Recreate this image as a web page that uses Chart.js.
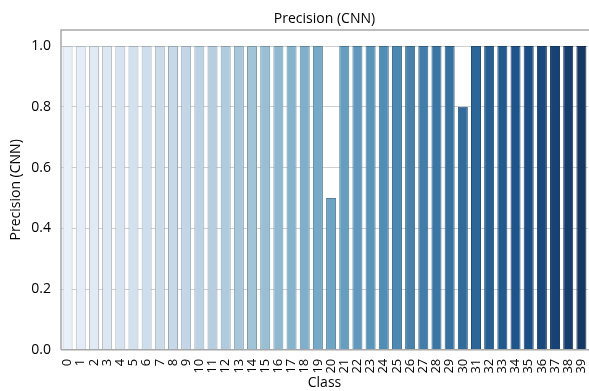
<!DOCTYPE html>
<html><head><meta charset="utf-8">
<script src="https://cdn.jsdelivr.net/npm/chart.js@4/dist/chart.umd.min.js"></script>
<style>html,body{margin:0;padding:0;background:#fff;overflow:hidden}#wrap{width:589px;height:391px;overflow:hidden;position:relative}canvas{position:absolute;left:0;top:0}</style>
</head><body><div id="wrap"><canvas id="c" width="598" height="391"></canvas></div>
<script>
const classes = Array.from({length:40},(_,i)=>String(i));
const precision = [1,1,1,1,1,1,1,1,1,1, 1,1,1,1,1,1,1,1,1,1, 0.5,1,1,1,1,1,1,1,1,1, 0.8,1,1,1,1,1,1,1,1,1];
const yTicks = [0,0.2,0.4,0.6,0.8,1.0];
const titleText = 'Precision (CNN)';
const yTitle = 'Precision (CNN)';
const xTitle = 'Class';

// Blues colormap stops
const stops = ['#f7fbff','#deebf7','#c6dbef','#9ecae1','#6baed6','#4292c6','#2171b5','#08519c','#08306b'].map(h=>[parseInt(h.substr(1,2),16),parseInt(h.substr(3,2),16),parseInt(h.substr(5,2),16)]);
function blues(t){const p=t*(stops.length-1);const i=Math.min(Math.floor(p),stops.length-2);const f=p-i;return stops[i].map((v,k)=>v+(stops[i+1][k]-v)*f);}
function rgb2hls(r,g,b){r/=255;g/=255;b/=255;const mx=Math.max(r,g,b),mn=Math.min(r,g,b);const l=(mx+mn)/2;let h=0,s=0;if(mx!==mn){const d=mx-mn;s=l>0.5?d/(2-mx-mn):d/(mx+mn);if(mx===r)h=((g-b)/d+(g<b?6:0));else if(mx===g)h=(b-r)/d+2;else h=(r-g)/d+4;h/=6;}return [h,l,s];}
function hue2(p,q,t){if(t<0)t+=1;if(t>1)t-=1;if(t<1/6)return p+(q-p)*6*t;if(t<1/2)return q;if(t<2/3)return p+(q-p)*(2/3-t)*6;return p;}
function hls2rgb(h,l,s){if(s===0)return [l*255,l*255,l*255];const q=l<0.5?l*(1+s):l+s-l*s;const p=2*l-q;return [hue2(p,q,h+1/3)*255,hue2(p,q,h)*255,hue2(p,q,h-1/3)*255];}
const fills=[],edges=[];
for(let i=0;i<classes.length;i++){
  const c=blues((i+1)/(classes.length+1));
  const [h,l,s]=rgb2hls(...c);
  const d=hls2rgb(h,l*0.97,s*0.75);
  fills.push(`rgb(${d.map(Math.round).join(',')})`);
  const e=d.map(v=>Math.round(v*0.78));
  edges.push(`rgb(${e.join(',')})`);
}
const FF='"Open Sans"';
const frame={id:'frame',
  afterDatasetsDraw(ch){const a=ch.chartArea,x=ch.ctx;x.save();x.strokeStyle='#a8a8a8';x.lineWidth=1.5;x.beginPath();x.moveTo(a.left,a.bottom);x.lineTo(a.left,a.top);x.lineTo(a.right+2,a.top);x.moveTo(a.left,a.bottom);x.lineTo(a.right+2,a.bottom);x.stroke();x.restore();},
  afterDraw(ch){const a=ch.chartArea,x=ch.ctx;x.save();x.fillStyle='#000';x.font='14px '+FF;x.textAlign='center';x.textBaseline='alphabetic';x.fillText(titleText,(a.left+a.right)/2,a.top-7);x.restore();}
};
new Chart(document.getElementById('c'),{
  type:'bar',
  data:{labels:classes,datasets:[{data:precision,backgroundColor:fills,borderColor:edges,borderWidth:1,barPercentage:0.76,categoryPercentage:1}]},
  options:{responsive:false,animation:false,devicePixelRatio:1,
    layout:{padding:{left:8,right:0,top:30,bottom:0}},
    plugins:{legend:{display:false},tooltip:{enabled:false},title:{display:false}},
    scales:{
      x:{grid:{display:false},border:{display:false},
        ticks:{color:'#000',font:{family:FF,size:13},maxRotation:90,minRotation:90,autoSkip:false,padding:1},
        title:{display:true,text:xTitle,color:'#000',font:{family:FF,size:14,lineHeight:1.1},padding:{top:1,bottom:0}}},
      y:{min:0,max:1.053,border:{display:false},
        afterBuildTicks(ax){ax.ticks=yTicks.map(v=>({value:v}));},
        afterFit(ax){ax.width=53;},
        grid:{color:'#cfcfcf',lineWidth:1,drawTicks:false,borderDash:[1,4]},
        ticks:{color:'#000',font:{family:FF,size:14},padding:10,callback:v=>Number(v).toFixed(1)},
        title:{display:true,text:yTitle,color:'#000',font:{family:FF,size:14},padding:{top:0,bottom:0}}}
    }},
  plugins:[frame]
});
</script></body></html>
